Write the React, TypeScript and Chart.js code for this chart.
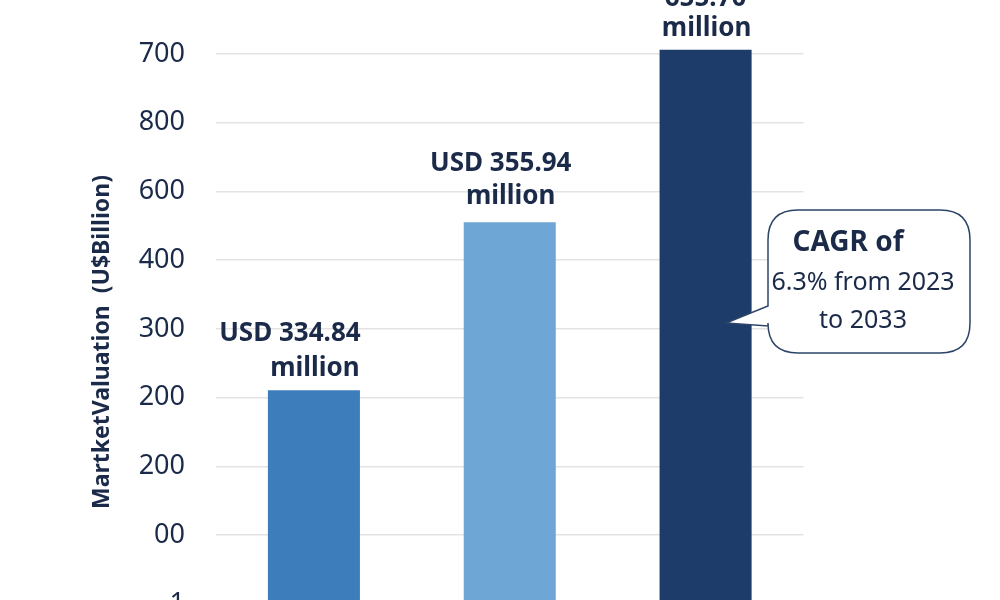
import React, { useEffect, useRef } from "react";
import { Chart, registerables } from "chart.js";

Chart.register(...registerables);

const categories = ["2023", "2024", "2033"];
const barValues = [311, 555, 806];
const valueLine1 = ["USD 334.84", "USD 355.94", "655.70"];
const valueLine2 = ["million", "million", "million"];
const tickValues = [0, 100, 200, 300, 400, 500, 600, 700, 800];
const tickLabels = ["1", "00", "200", "200", "300", "400", "600", "800", "700"];
const yTitle = "MartketValuation  (U$Billion)";
const calloutLines = ["CAGR of", "6.3% from 2023", "to 2033"];

const barColors = ["#3e7dbb", "#6ea6d6", "#1d3c6a"];
const TEXT = "#1a2a48";
const FONT = "'Noto Sans', 'Open Sans', sans-serif";
const line1Dx = [-24, -9, 0];
const line1Dy = [-57, -59, -51];
const line2Dy = [-22, -26, -21];

export default function App() {
  const ref = useRef<HTMLCanvasElement | null>(null);

  useEffect(() => {
    if (!ref.current) return;
    const labelsPlugin = {
      id: "barLabels",
      afterDatasetsDraw(chart: any) {
        const ctx = chart.ctx;
        const meta = chart.getDatasetMeta(0);
        ctx.save();
        ctx.fillStyle = TEXT;
        ctx.textAlign = "center";
        ctx.textBaseline = "middle";
        ctx.font = `bold 26px ${FONT}`;
        meta.data.forEach((bar: any, i: number) => {
          ctx.fillText(valueLine1[i], bar.x + line1Dx[i], bar.y + line1Dy[i]);
          ctx.fillText(valueLine2[i], bar.x + 1, bar.y + line2Dy[i]);
        });
        ctx.restore();
      },
      afterDraw(chart: any) {
        const ctx = chart.ctx;
        ctx.save();
        ctx.translate(102, 342);
        ctx.rotate(-Math.PI / 2);
        ctx.fillStyle = TEXT;
        ctx.font = `bold 23px ${FONT}`;
        ctx.textAlign = "center";
        ctx.textBaseline = "middle";
        ctx.fillText(yTitle, 0, 0);
        ctx.restore();

        ctx.save();
        const x0 = 768, y0 = 210, x1 = 970, y1 = 353, r = 30;
        ctx.beginPath();
        ctx.moveTo(x0 + r, y0);
        ctx.lineTo(x1 - r, y0);
        ctx.quadraticCurveTo(x1, y0, x1, y0 + r);
        ctx.lineTo(x1, y1 - r);
        ctx.quadraticCurveTo(x1, y1, x1 - r, y1);
        ctx.lineTo(x0 + r, y1);
        ctx.quadraticCurveTo(x0, y1, x0, y1 - r);
        ctx.lineTo(x0, 326);
        ctx.lineTo(726, 323);
        ctx.lineTo(x0, 306);
        ctx.lineTo(x0, y0 + r);
        ctx.quadraticCurveTo(x0, y0, x0 + r, y0);
        ctx.closePath();
        ctx.fillStyle = "#ffffff";
        ctx.fill();
        ctx.strokeStyle = "#2c4468";
        ctx.lineWidth = 1.5;
        ctx.stroke();
        ctx.fillStyle = TEXT;
        ctx.textAlign = "center";
        ctx.textBaseline = "middle";
        ctx.font = `bold 28px ${FONT}`;
        ctx.fillText(calloutLines[0], 848, 243);
        ctx.font = `25px ${FONT}`;
        ctx.fillText(calloutLines[1], 863, 283);
        ctx.fillText(calloutLines[2], 863, 321);
        ctx.restore();
      },
    };

    const chart = new Chart(ref.current, {
      type: "bar",
      data: {
        labels: categories,
        datasets: [
          {
            data: barValues,
            backgroundColor: barColors,
            borderWidth: 0,
            barPercentage: 0.47,
            categoryPercentage: 1,
          },
        ],
      },
      options: {
        responsive: true,
        maintainAspectRatio: false,
        animation: false,
        layout: { padding: { left: 0, right: 196.5, top: 47, bottom: 21 } },
        plugins: { legend: { display: false }, tooltip: { enabled: false } },
        scales: {
          x: { display: false },
          y: {
            min: 0,
            max: 810,
            afterBuildTicks(scale: any) {
              scale.ticks = tickValues.map((v) => ({ value: v }));
            },
            afterFit(scale: any) {
              scale.width = 216;
              scale.paddingTop = 0;
              scale.paddingBottom = 0;
            },
            ticks: {
              padding: 31,
              color: TEXT,
              font: { family: FONT, size: 27 },
              callback: (v: any) => tickLabels[tickValues.indexOf(Number(v))] ?? "",
            },
            grid: { color: "#e3e3e3", lineWidth: 1.5, drawTicks: false },
            border: { display: false },
          },
        },
      },
      plugins: [labelsPlugin],
    });
    return () => chart.destroy();
  }, []);

  return (
    <div style={{ position: "fixed", left: 0, top: 0, width: 1000, height: 625, background: "#fff" }}>
      <canvas ref={ref} />
    </div>
  );
}
